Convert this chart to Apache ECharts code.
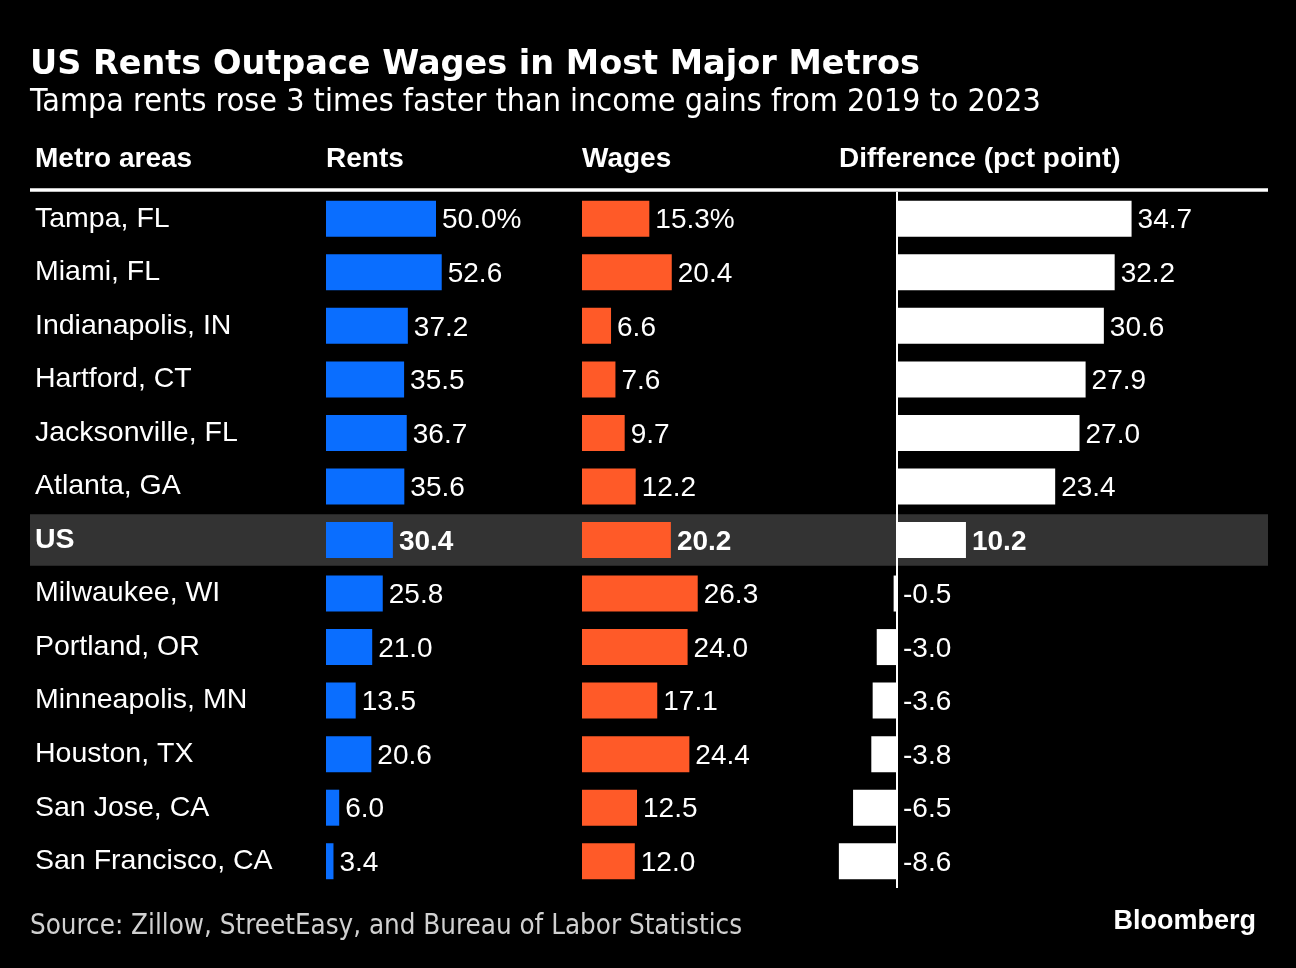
<!DOCTYPE html>
<html>
<head>
<meta charset="utf-8">
<script src="https://cdn.jsdelivr.net/npm/echarts@6/dist/echarts.min.js"></script>
<style>
  html, body { margin: 0; padding: 0; background: #000; }
  #chart { width: 1296px; height: 968px; }
</style>
</head>
<body>
<div id="chart"></div>
<script>
// ---- Data ----
const metros = ['Tampa, FL', 'Miami, FL', 'Indianapolis, IN', 'Hartford, CT', 'Jacksonville, FL', 'Atlanta, GA', 'US',
  'Milwaukee, WI', 'Portland, OR', 'Minneapolis, MN', 'Houston, TX', 'San Jose, CA', 'San Francisco, CA'];
const rents = [50.0, 52.6, 37.2, 35.5, 36.7, 35.6, 30.4, 25.8, 21.0, 13.5, 20.6, 6.0, 3.4];
const wages = [15.3, 20.4, 6.6, 7.6, 9.7, 12.2, 20.2, 26.3, 24.0, 17.1, 24.4, 12.5, 12.0];
const diffs = [34.7, 32.2, 30.6, 27.9, 27.0, 23.4, 10.2, -0.5, -3.0, -3.6, -3.8, -6.5, -8.6];
const highlight = 'US';
const headers = ['Metro areas', 'Rents', 'Wages', 'Difference (pct point)'];
const titleText = 'US Rents Outpace Wages in Most Major Metros';
const subtitleText = 'Tampa rents rose 3 times faster than income gains from 2019 to 2023';
const sourceText = 'Source: Zillow, StreetEasy, and Bureau of Labor Statistics';
const brandText = 'Bloomberg';

// ---- Style ----
const LBL = '"Liberation Sans", Arial, Helvetica, sans-serif';
const COND = '"DejaVu Sans Condensed", "DejaVu Sans", sans-serif';
const BLUE = '#0a6eff';
const ORANGE = '#ff5a28';
const TOP = 192, H = 696;

const chart = echarts.init(document.getElementById('chart'), null, { renderer: 'canvas' });

function fmt(v, i, pct) {
  const s = v.toFixed(1);
  return (i === 0 && pct) ? s + '%' : s;
}
function valueSeries(name, vals, color, gridIdx, pct) {
  return {
    name: name, type: 'bar', xAxisIndex: gridIdx, yAxisIndex: gridIdx,
    barWidth: 36, silent: true, animation: false, z: 3,
    itemStyle: { color: color },
    data: vals.map((v, i) => ({
      value: v,
      label: metros[i] === highlight ? { fontWeight: 'bold' } : {}
    })),
    label: {
      show: true, position: 'right', distance: 6, offset: [0, 2],
      color: '#fff', fontFamily: LBL, fontSize: 28,
      formatter: p => fmt(vals[p.dataIndex], p.dataIndex, pct)
    }
  };
}
const catAxis = (gi, showLabels) => ({
  type: 'category', gridIndex: gi, inverse: true, z: 10,
  data: showLabels ? metros.map(m => ({
    value: m, textStyle: m === highlight ? { fontWeight: 'bold' } : {}
  })) : metros,
  axisLine: { show: false }, axisTick: { show: false }, splitLine: { show: false },
  axisLabel: showLabels ? {
    show: true, inside: true, margin: 5, color: '#fff', fontFamily: LBL, fontSize: 28.5,
    padding: [0, 0, 8, 0]
  } : { show: false }
});
const valAxis = (gi, min, max) => ({
  type: 'value', gridIndex: gi, min: min, max: max, show: false
});
const mkGrid = (left, width) => ({ left: left, width: width, top: TOP, height: H, containLabel: false, outerBoundsMode: 'none' });

const option = {
  backgroundColor: '#000',
  animation: false,
  grid: [mkGrid(30, 1238), mkGrid(326, 220), mkGrid(582, 220), mkGrid(829.4, 338)],
  xAxis: [valAxis(0, 0, 1), valAxis(1, 0, 100), valAxis(2, 0, 50), valAxis(3, -10, 40)],
  yAxis: [catAxis(0, true), catAxis(1, false), catAxis(2, false), catAxis(3, false)],
  series: [
    {
      type: 'bar', xAxisIndex: 0, yAxisIndex: 0, barWidth: '96.5%', silent: true, z: 1,
      itemStyle: { color: '#333333' },
      data: metros.map(m => m === highlight ? 1 : 0)
    },
    valueSeries('Rents', rents, BLUE, 1, true),
    valueSeries('Wages', wages, ORANGE, 2, true),
    Object.assign(valueSeries('Difference', diffs, '#ffffff', 3, false), {
      markLine: {
        silent: true, symbol: 'none', animation: false,
        label: { show: false },
        lineStyle: { color: '#fff', width: 2, type: 'solid' },
        data: [{ xAxis: 0 }]
      }
    })
  ],
  graphic: [
    { type: 'text', x: 30, y: 65, style: { text: titleText, fill: '#fff', font: 'bold 33.5px "DejaVu Sans"', verticalAlign: 'middle' } },
    { type: 'text', x: 30, y: 103, style: { text: subtitleText, fill: '#fff', font: '32px ' + COND, verticalAlign: 'middle' } },
    { type: 'text', x: 35, y: 159, style: { text: headers[0], fill: '#fff', font: 'bold 28px ' + LBL, verticalAlign: 'middle' } },
    { type: 'text', x: 326, y: 159, style: { text: headers[1], fill: '#fff', font: 'bold 28px ' + LBL, verticalAlign: 'middle' } },
    { type: 'text', x: 582, y: 159, style: { text: headers[2], fill: '#fff', font: 'bold 28px ' + LBL, verticalAlign: 'middle' } },
    { type: 'text', x: 839, y: 159, style: { text: headers[3], fill: '#fff', font: 'bold 28px ' + LBL, verticalAlign: 'middle' } },
    { type: 'rect', shape: { x: 30, y: 188.3, width: 1238, height: 3.5 }, style: { fill: '#fff' } },
    { type: 'text', x: 30, y: 927, style: { text: sourceText, fill: '#d0d0d0', font: '27.5px ' + COND, verticalAlign: 'middle' } },
    { type: 'text', x: 1256, y: 922, style: { text: brandText, fill: '#fff', font: 'bold 27px ' + LBL, align: 'right', verticalAlign: 'middle' } }
  ]
};
chart.setOption(option);
</script>
</body>
</html>
